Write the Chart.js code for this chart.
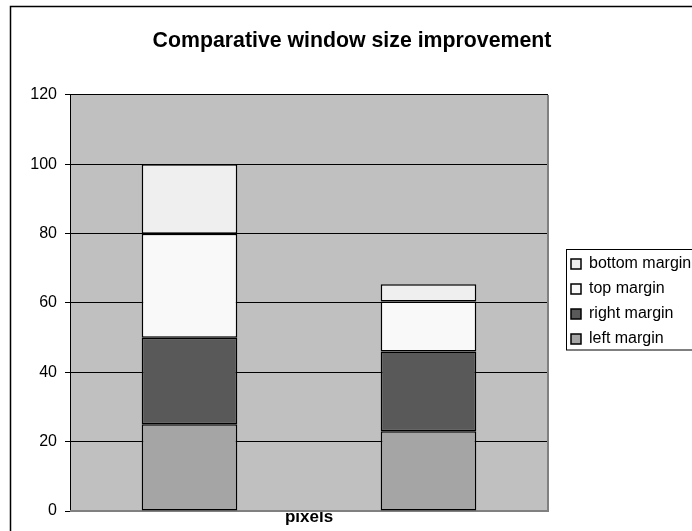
<!DOCTYPE html>
<html>
<head>
<meta charset="utf-8">
<style>
  html, body { margin: 0; padding: 0; background: #ffffff; }
  #wrap { width: 692px; height: 531px; position: relative; }
</style>
<script src="https://cdn.jsdelivr.net/npm/chart.js@4/dist/chart.umd.min.js"></script>
</head>
<body>
<div id="wrap"><canvas id="c" width="692" height="531"></canvas></div>
<script>
// Two stacked columns, one segment per window margin
const categories = ['', ''];
const leftMargin = [25, 23];
const rightMargin = [25, 23];
const topMargin = [30, 14.4];
const bottomMargin = [20, 5];
const yTicks = [0, 20, 40, 60, 80, 100, 120];

const FONT = '"Liberation Sans", Arial, Helvetica, sans-serif';

// Page frame, grey plot background and the framed legend panel
const framePlugin = {
  id: 'frame',
  beforeDraw(chart) {
    const ctx = chart.ctx;
    const a = chart.chartArea;
    ctx.save();
    ctx.fillStyle = '#ffffff';
    ctx.fillRect(0, 0, chart.width, chart.height);
    ctx.strokeStyle = '#000000';
    ctx.lineWidth = 1.5;
    ctx.strokeRect(10.5, 6.5, chart.width + 20, chart.height + 20);
    ctx.fillStyle = '#c0c0c0';
    ctx.fillRect(a.left, a.top, a.right - a.left, a.bottom - a.top);
    // legend panel
    ctx.fillStyle = '#ffffff';
    ctx.fillRect(566, 249.5, 140, 100.5);
    ctx.strokeStyle = '#000000';
    ctx.lineWidth = 1;
    ctx.strokeRect(566.5, 249.5, 140, 100.5);
    ctx.restore();
  },
  afterLayout(chart) {
    const lg = chart.legend;
    if (lg) {
      const w = lg.width, h = lg.height;
      lg.left = 562; lg.top = 247;
      lg.right = lg.left + w; lg.bottom = lg.top + h;
    }
    // centre the title across the whole framed page
    const t = chart.titleBlock;
    if (t) { t.left = 10; t.right = chart.width + 2; t.width = t.right - t.left; }
  },
  beforeDatasetsDraw(chart) {
    const ctx = chart.ctx;
    const a = chart.chartArea;
    ctx.save();
    ctx.strokeStyle = '#808080';
    ctx.lineWidth = 2;
    ctx.beginPath();
    ctx.moveTo(a.right, a.top);
    ctx.lineTo(a.right, a.bottom);
    ctx.lineTo(a.left, a.bottom);
    ctx.stroke();
    ctx.restore();
  }
};

const barStyle = { borderColor: '#000000', borderWidth: 1.5, borderSkipped: false, barPercentage: 0.4, categoryPercentage: 1.0 };

new Chart(document.getElementById('c'), {
  type: 'bar',
  data: {
    labels: categories,
    datasets: [
      Object.assign({ label: 'left margin', data: leftMargin, backgroundColor: '#a5a5a5' }, barStyle),
      Object.assign({ label: 'right margin', data: rightMargin, backgroundColor: '#595959' }, barStyle),
      Object.assign({ label: 'top margin', data: topMargin, backgroundColor: '#f9f9f9' }, barStyle),
      Object.assign({ label: 'bottom margin', data: bottomMargin, backgroundColor: '#efefef' }, barStyle)
    ]
  },
  options: {
    responsive: false,
    animation: false,
    devicePixelRatio: 1,
    layout: { padding: { left: 0, top: 0, right: 144, bottom: 0 } },
    plugins: {
      title: {
        display: true,
        text: 'Comparative window size improvement',
        color: '#000000',
        font: { family: FONT, size: 21.3, weight: 'bold', lineHeight: 1.2 },
        padding: { top: 28, bottom: 41.4 }
      },
      legend: {
        display: true,
        position: 'chartArea',
        align: 'start',
        reverse: true,
        labels: {
          color: '#000000',
          font: { family: FONT, size: 16 },
          boxWidth: 10,
          boxHeight: 10,
          padding: 9
        }
      },
      tooltip: { enabled: false }
    },
    scales: {
      x: {
        stacked: true,
        grid: { display: false },
        border: { display: false },
        ticks: { display: false },
        title: {
          display: true,
          text: 'pixels',
          color: '#000000',
          font: { family: FONT, size: 17, weight: 'bold', lineHeight: 1.2 },
          padding: { top: 0, bottom: 3 }
        },
        afterFit(scale) { scale.height = 20; }
      },
      y: {
        stacked: true,
        min: 0,
        max: 120,
        afterBuildTicks(scale) { scale.ticks = yTicks.map(v => ({ value: v })); },
        grid: { color: '#000000', lineWidth: 1, tickLength: 5, tickColor: '#000000', drawTicks: true },
        border: { display: true, color: '#000000', width: 1 },
        ticks: { color: '#000000', font: { family: FONT, size: 16 }, padding: 8 },
        afterFit(scale) { scale.width = 70; }
      }
    }
  },
  plugins: [framePlugin]
});
</script>
</body>
</html>
